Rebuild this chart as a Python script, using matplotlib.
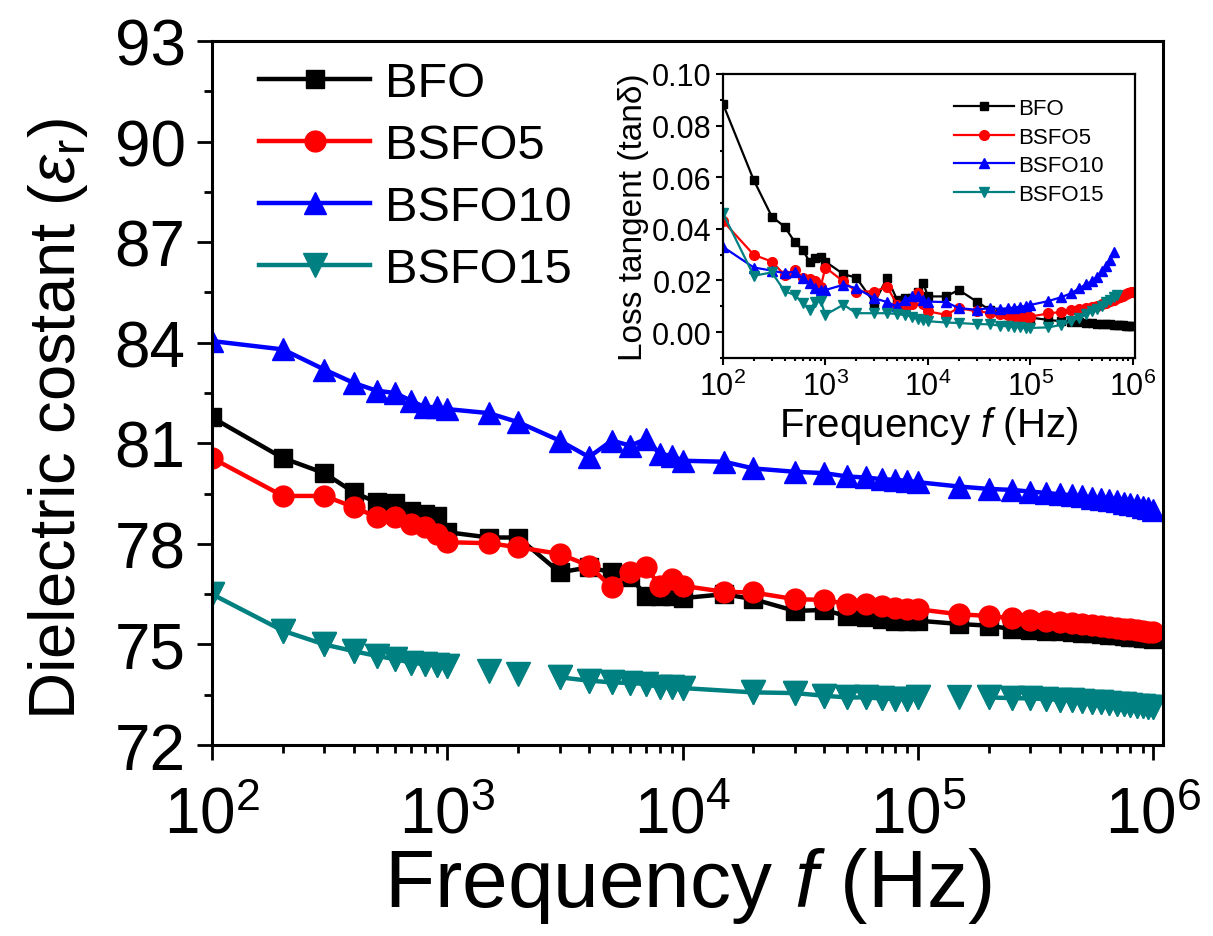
import matplotlib

matplotlib.use("Agg")

import matplotlib.pyplot as plt
import numpy as np
from matplotlib.ticker import LogLocator, MultipleLocator, NullFormatter, FormatStrFormatter

# measurement frequencies (Hz)
FREQ = [100, 200, 300, 400, 500, 600, 700, 800, 900,
        1000, 1500, 2000, 3000, 4000, 5000, 6000, 7000, 8000, 9000,
        10000, 15000, 20000, 30000, 40000, 50000, 60000, 70000, 80000, 90000,
        100000, 150000, 200000, 250000, 300000, 350000, 400000, 450000, 500000,
        550000, 600000, 650000, 700000, 750000, 800000, 850000, 900000, 950000, 1000000]
# BSFO15 has no point at 15 kHz in the main panel
FREQ_15 = [f for f in FREQ if f != 15000]
# points of BSFO15 that are drawn without a joining line
NOLINE_15 = [1500, 2000, 150000]

LABELS = ["BFO", "BSFO5", "BSFO10", "BSFO15"]
COLORS = ["#000000", "#ff0000", "#0000ff", "#008080"]
MARKERS = ["s", "o", "^", "v"]

# dielectric constant
EPS_BFO = [81.77, 80.56, 80.11, 79.54, 79.24, 79.22, 78.99, 78.9, 78.84,
           78.35, 78.19, 78.19, 77.15, 77.3, 77.15, 77.0, 76.45, 76.45, 76.45,
           76.38, 76.5, 76.35, 76.0, 76.03, 75.84, 75.81, 75.76, 75.71, 75.71,
           75.71, 75.61, 75.56, 75.46, 75.43, 75.41, 75.39, 75.37, 75.35,
           75.33, 75.31, 75.29, 75.27, 75.25, 75.23, 75.21, 75.19, 75.18, 75.16]
EPS_BSFO5 = [80.56, 79.43, 79.43, 79.1, 78.8, 78.8, 78.6, 78.5, 78.29,
             78.05, 78.02, 77.9, 77.7, 77.35, 76.7, 77.17, 77.3, 76.75, 76.95,
             76.75, 76.57, 76.55, 76.35, 76.33, 76.2, 76.2, 76.15, 76.1, 76.07,
             76.05, 75.9, 75.85, 75.78, 75.74, 75.7, 75.67, 75.64, 75.61,
             75.58, 75.55, 75.52, 75.5, 75.47, 75.45, 75.42, 75.4, 75.38, 75.36]
EPS_BSFO10 = [84.05, 83.8, 83.2, 82.8, 82.57, 82.5, 82.27, 82.08, 82.08,
              82.02, 81.9, 81.63, 81.08, 80.59, 81.08, 80.93, 81.13, 80.68, 80.63,
              80.48, 80.45, 80.25, 80.15, 80.11, 80.01, 79.98, 79.93, 79.91, 79.88,
              79.84, 79.71, 79.64, 79.61, 79.56, 79.52, 79.48, 79.45, 79.42,
              79.38, 79.35, 79.3, 79.27, 79.23, 79.19, 79.15, 79.11, 79.06, 79.0]
EPS_BSFO15 = [76.5, 75.41, 75.0, 74.8, 74.66, 74.56, 74.46, 74.41, 74.39,
              74.36, 74.21, 74.12, 74.02, 73.92, 73.87, 73.85, 73.82, 73.72, 73.72,
              73.7, 73.57, 73.55, 73.47, 73.42, 73.42, 73.39, 73.37, 73.37,
              73.42, 73.42, 73.42, 73.4, 73.39, 73.37, 73.35, 73.33, 73.31,
              73.29, 73.27, 73.25, 73.23, 73.21, 73.19, 73.17, 73.15, 73.13, 73.12]

# loss tangent (inset), nan = not measured / not shown
NAN = float("nan")
TAN_BFO = [0.0884, 0.0588, 0.0447, 0.0408, 0.035, 0.0318, 0.0273, 0.0286, 0.0292,
           0.0273, 0.0224, 0.0211, 0.0112, 0.0211, 0.0125, 0.013, 0.013, 0.0157, 0.019,
           0.0138, 0.0138, 0.0163, 0.0118, 0.0086, 0.0075, 0.007, 0.0066, 0.0062, 0.006,
           0.0056, 0.0047, 0.0042, 0.0039, 0.0037, 0.0035, 0.0034, 0.0033, 0.0032,
           0.0031, 0.003, 0.0029, 0.0028, 0.0027, 0.0026, 0.0025, 0.0025, 0.0024, 0.0023]
TAN_BSFO5 = [0.043, 0.0299, 0.0273, 0.0221, 0.024, 0.0208, 0.0206, 0.0196, 0.0176,
             0.025, 0.0196, 0.0157, 0.0157, 0.0176, 0.0106, 0.0086, 0.011, 0.015, 0.011,
             0.008, 0.0067, 0.0093, 0.008, 0.0075, 0.0068, 0.0065, 0.0062, 0.006, 0.006,
             0.006, 0.0072, 0.0078, 0.0085, 0.009, 0.0093, 0.0097, 0.0102, 0.0108,
             0.0114, 0.012, 0.0126, 0.0131, 0.0136, 0.0141, 0.0146, 0.015, 0.0154, 0.0157]
TAN_BSFO10 = [0.033, 0.025, 0.0238, 0.0228, 0.0234, 0.0208, 0.019, 0.017, 0.0163,
              0.0163, 0.0183, 0.017, 0.0131, 0.0116, 0.0099, 0.0125, 0.0138, 0.0138, 0.0125,
              0.0118, 0.0116, 0.0093, 0.0086, 0.0093, 0.009, 0.0092, 0.0095, 0.0098, 0.0101,
              0.0105, 0.012, 0.0135, 0.015, 0.017, 0.0185, 0.0198, 0.0215, 0.0235,
              0.0255, 0.028, 0.031, NAN, NAN, NAN, NAN, NAN, NAN, NAN]
TAN_BSFO15 = [0.046, 0.0218, 0.0231, 0.0158, 0.0144, 0.0112, 0.0086, 0.0118, 0.012,
              0.0067, 0.0106, 0.0073, 0.0073, 0.0073, 0.007, 0.0065, 0.006, 0.0052, 0.0046,
              0.0042, 0.0037, 0.0035, 0.0031, 0.003, 0.0025, 0.0022, 0.002, 0.0018, 0.0017,
              0.0016, 0.0018, 0.0028, 0.0042, 0.0055, 0.0068, 0.008, 0.009, 0.0102,
              0.0115, 0.0125, 0.0135, 0.0142, NAN, NAN, NAN, NAN, NAN, NAN]


def setup_style() -> None:
    plt.rcParams.update(
        {
            "font.family": ["Liberation Sans", "DejaVu Sans"],
            "mathtext.fontset": "custom",
            "mathtext.rm": "Liberation Sans",
            "mathtext.it": "Liberation Sans:italic",
            "mathtext.default": "regular",
            "axes.linewidth": 2.2,
            "xtick.direction": "out",
            "ytick.direction": "out",
        }
    )


def style_axes(ax, major_len, minor_len, width, xpad, ypad, size):
    ax.tick_params(which="major", length=major_len, width=width, labelsize=size)
    ax.tick_params(which="minor", length=minor_len, width=width)
    ax.tick_params(axis="x", pad=xpad)
    ax.tick_params(axis="y", pad=ypad)
    ax.tick_params(top=False, right=False, which="both")


def log_ticks(ax):
    ax.xaxis.set_major_locator(LogLocator(base=10, numticks=10))
    ax.xaxis.set_minor_locator(LogLocator(base=10, subs=np.arange(2, 10), numticks=20))
    ax.xaxis.set_minor_formatter(NullFormatter())


def main() -> None:
    setup_style()
    fig = plt.figure(figsize=(12.13, 9.37), dpi=100)

    # ---- main panel: dielectric constant
    ax = fig.add_axes([0.1748, 0.2038, 0.784, 0.7514])
    series = [EPS_BFO, EPS_BSFO5, EPS_BSFO10]
    sizes = [13.5, 15, 16]
    for vals, label, color, marker, ms in zip(series, LABELS, COLORS, MARKERS, sizes):
        ax.plot(FREQ, vals, color=color, marker=marker, ms=ms, lw=3.2, label=label)

    f15 = np.array(FREQ_15, dtype=float)
    e15 = np.array(EPS_BSFO15, dtype=float)
    e15_line = np.where(np.isin(f15, NOLINE_15), np.nan, e15)
    ax.plot(f15, e15_line, color=COLORS[3], marker="v", ms=17, lw=3.2, label=LABELS[3])
    ax.plot(f15, e15, color=COLORS[3], marker="v", ms=17, ls="none")

    ax.set_xscale("log")
    ax.set_xlim(100, 1.1e6)
    ax.set_ylim(72, 93)
    ax.yaxis.set_major_locator(MultipleLocator(3))
    ax.yaxis.set_minor_locator(MultipleLocator(1.5))
    log_ticks(ax)
    style_axes(ax, 11, 5.5, 2.0, 18, 8, 46)
    ax.set_xlabel("Frequency $\\mathit{f}$ (Hz)", fontsize=59, labelpad=0)
    ax.set_ylabel("Dielectric costant ($\\mathit{\\varepsilon}_\\mathrm{r}$)", fontsize=47)
    ax.yaxis.set_label_coords(-0.128, 0.465)

    ax.legend(loc="upper left", bbox_to_anchor=(0.049, 0.972), frameon=False,
              fontsize=35, handlelength=2.3, handletextpad=0.3, labelspacing=0.35,
              borderpad=0, borderaxespad=0)

    # ---- inset: loss tangent
    axi = fig.add_axes([0.596, 0.617, 0.3397, 0.3031])
    tans = [TAN_BFO, TAN_BSFO5, TAN_BSFO10, TAN_BSFO15]
    isizes = [6, 7, 7.5, 7.5]
    for vals, label, color, marker, ms in zip(tans, LABELS, COLORS, MARKERS, isizes):
        axi.plot(FREQ, vals, color=color, marker=marker, ms=ms, lw=1.6, label=label)
    for sp in axi.spines.values():
        sp.set_linewidth(1.6)
    axi.set_xscale("log")
    axi.set_xlim(100, 1.05e6)
    axi.set_ylim(-0.01, 0.10)
    axi.yaxis.set_major_locator(MultipleLocator(0.02))
    axi.yaxis.set_minor_locator(MultipleLocator(0.01))
    axi.yaxis.set_major_formatter(FormatStrFormatter("%.2f"))
    log_ticks(axi)
    style_axes(axi, 5, 2.5, 1.5, 4, 3, 22)
    axi.set_xlabel("Frequency $\\mathit{f}$ (Hz)", fontsize=29, labelpad=2)
    axi.set_ylabel("Loss tangent (tanδ)", fontsize=24, labelpad=2)
    axi.legend(loc="upper left", bbox_to_anchor=(0.56, 0.915), frameon=False,
               fontsize=16, handlelength=2.7, handletextpad=0.2, labelspacing=0.34,
               borderpad=0, borderaxespad=0)

    fig.savefig("out.png", dpi=100)
    plt.close(fig)


if __name__ == "__main__":
    main()
